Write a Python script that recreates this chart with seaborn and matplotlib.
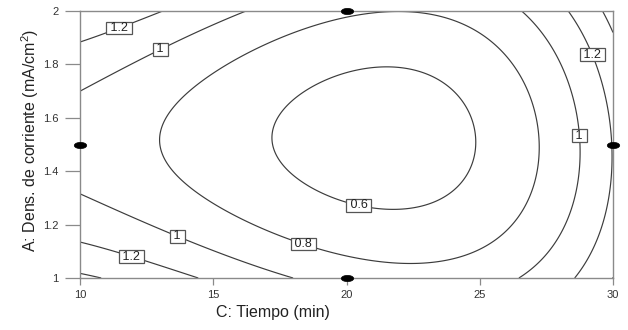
import numpy as np
import pandas as pd
import matplotlib
matplotlib.use("Agg")
import matplotlib.pyplot as plt
from matplotlib.markers import MarkerStyle
from matplotlib.transforms import Affine2D
import seaborn as sns

# Fitted response model in coded units u = (t - 20)/10, v = (A - 1.5)/0.5
model_terms = ["1", "u", "v", "uv", "u2", "v2", "u2v", "uv2", "u3", "v3"]
model_coefs = [0.5172, -0.1694, -0.0356, 0.0280, 0.5514, 0.3561,
               0.0503, -0.1281, 0.3094, -0.0082]

contour_levels = [0.6, 0.8, 1.0, 1.2, 1.4]
labelled_levels = [0.6, 0.8, 1.0, 1.2]

# Design points (time, current density)
design_time = [20, 10, 20, 30]
design_density = [2.0, 1.5, 1.0, 1.5]

# Label anchor positions (time, density) for the contour labels
label_time = [11.35, 12.85, 29.44, 28.6, 20.5, 18.48, 13.75, 11.99]
label_density = [1.966, 1.89, 1.846, 1.532, 1.288, 1.161, 1.18, 1.097]

xticks = [10, 15, 20, 25, 30]
yticks = [1, 1.2, 1.4, 1.6, 1.8, 2]


def response(t, a):
    u = (t - 20) / 10
    v = (a - 1.5) / 0.5
    basis = {"1": np.ones_like(u), "u": u, "v": v, "uv": u * v,
             "u2": u * u, "v2": v * v, "u2v": u * u * v, "uv2": u * v * v,
             "u3": u ** 3, "v3": v ** 3}
    return sum(c * basis[k] for k, c in zip(model_terms, model_coefs))


sns.set_style("white")
plt.rcParams["font.family"] = ["Liberation Sans", "DejaVu Sans"]
plt.rcParams["mathtext.fontset"] = "custom"
plt.rcParams["mathtext.rm"] = "Liberation Sans"
plt.rcParams["mathtext.default"] = "regular"

fig = plt.figure(figsize=(6.28, 3.30), dpi=100)
ax = fig.add_axes([80 / 628, 1 - 278 / 330, 533 / 628, 267 / 330])

t = np.linspace(10, 30, 400)
a = np.linspace(1, 2, 400)
T, A = np.meshgrid(t, a)
Z = response(T, A)

line_col = "#3c3c3c"
cs = ax.contour(T, A, Z, levels=contour_levels, colors=line_col,
                linewidths=0.85)
labels = ax.clabel(cs, levels=labelled_levels, inline=False,
                   fmt=lambda v: f" {v:g} ", fontsize=9, colors="#222222",
                   manual=list(zip(label_time, label_density)))
for txt in labels:
    txt.set_rotation(0)
    txt.set_zorder(5)
    txt.set_bbox(dict(boxstyle="square,pad=0.03", facecolor="white",
                      edgecolor="#555555", linewidth=0.9))

pts = pd.DataFrame({"time": design_time, "density": design_density})
dot = MarkerStyle("o", transform=Affine2D().scale(1.0, 0.5))
sns.scatterplot(data=pts, x="time", y="density", ax=ax, marker=dot,
                s=80, color="black", edgecolor="black", linewidth=0.5,
                clip_on=False, zorder=6)

ax.set_xlim(10, 30)
ax.set_ylim(1, 2)
ax.set_xticks(xticks)
ax.set_xticklabels([f"{v:g}" for v in xticks])
ax.set_yticks(yticks)
ax.set_yticklabels([f"{v:g}" for v in yticks])

for s in ax.spines.values():
    s.set_color("#8a8a8a")
    s.set_linewidth(1.0)
ax.tick_params(axis="x", direction="out", length=5, width=0.9,
               color="#8a8a8a", pad=3.5, labelsize=8, labelcolor="#333333",
               bottom=True)
ax.tick_params(axis="y", direction="out", length=10.5, width=0.9,
               color="#8a8a8a", pad=5, labelsize=8, labelcolor="#333333",
               left=True)

ax.set_xlabel("C: Tiempo (min)", fontsize=11.5, color="#222222")
ax.set_ylabel("A: Dens. de corriente (mA/cm$^{2}$)", fontsize=11.5,
              color="#222222")
ax.xaxis.set_label_coords((273 - 80) / 533, -(313 - 278) / 267)
ax.yaxis.set_label_coords(-(80 - 30) / 533, (278 - 140) / 267)
ax.xaxis.label.set_va("center")
ax.yaxis.label.set_va("center")

fig.savefig("out.png", dpi=100)
